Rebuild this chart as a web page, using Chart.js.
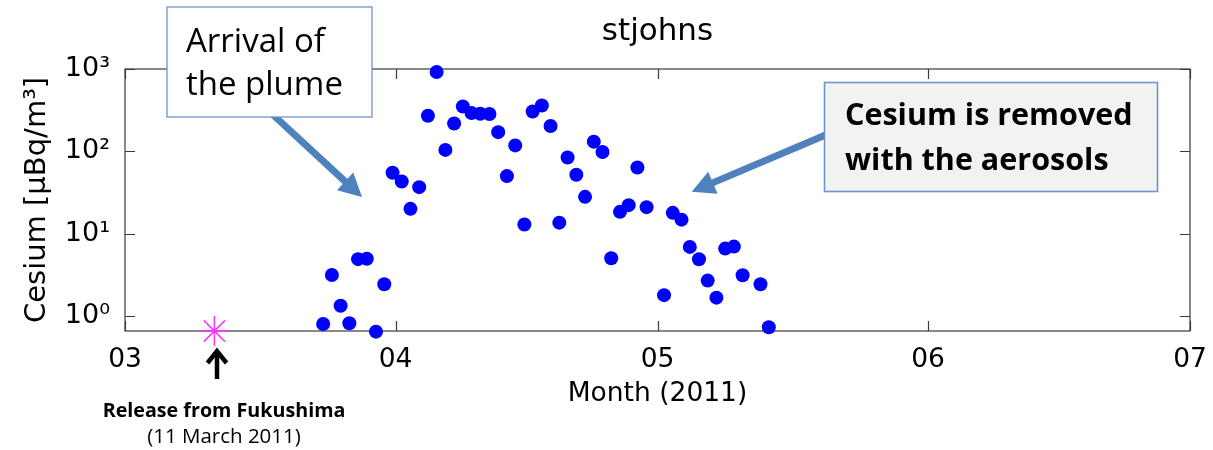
<!DOCTYPE html>
<html><head><meta charset="utf-8">
<script src="https://cdn.jsdelivr.net/npm/chart.js@4.4.1/dist/chart.umd.min.js"></script>
<style>html,body{margin:0;padding:0;background:#fff}#wrap{width:1213px;height:450px;position:relative}</style>
</head><body><div id="wrap"><canvas id="c" width="1213" height="450"></canvas></div>
<script>
// x values are days since 1 March 2011
const monthTicks = [0, 31, 61, 92, 122];
const monthLabels = ['03', '04', '05', '06', '07'];
const decadeTicks = [1, 10, 100, 1000];
const decadeLabels = ['10⁰', '10¹', '10²', '10³'];

const sampleDays = [22.7, 23.7, 24.7, 25.7, 26.7, 27.7, 28.75, 29.7, 30.65, 31.7,
  32.7, 33.7, 34.7, 35.7, 36.7, 37.7, 38.7, 39.7, 40.7, 41.75,
  42.75, 43.75, 44.7, 45.75, 46.7, 47.75, 48.75, 49.75, 50.7, 51.7,
  52.7, 53.7, 54.7, 55.7, 56.7, 57.7, 58.7, 59.75, 61.75, 62.75,
  63.75, 64.7, 65.75, 66.75, 67.75, 68.75, 69.75, 70.75, 72.8, 73.75];
const cesium = [0.80, 3.15, 1.33, 0.815, 4.9, 4.95, 0.645, 2.43, 55, 43,
  20, 36.7, 270, 920, 104, 218, 350, 292, 286, 284,
  171, 50, 118, 12.9, 305, 361, 203, 13.6, 84, 52,
  28, 131, 98, 5.03, 18.4, 22.2, 63.6, 21, 1.79, 17.9,
  14.8, 6.9, 4.89, 2.69, 1.67, 6.58, 6.96, 3.13, 2.43, 0.73];
const releaseDay = [10.24];
const releaseValue = [0.657];

const axisFont = {family: 'DejaVu Sans', size: 26.5, weight: 'normal'};

function arrow(ctx, x0, y0, x1, y1, shaftW, headLen, headW, color) {
  const a = Math.atan2(y1 - y0, x1 - x0);
  const bx = x1 - headLen * Math.cos(a), by = y1 - headLen * Math.sin(a);
  ctx.save();
  ctx.strokeStyle = color; ctx.fillStyle = color; ctx.lineWidth = shaftW; ctx.lineCap = 'butt';
  ctx.beginPath(); ctx.moveTo(x0, y0); ctx.lineTo(bx + Math.cos(a), by + Math.sin(a)); ctx.stroke();
  const nx = -Math.sin(a), ny = Math.cos(a);
  ctx.beginPath(); ctx.moveTo(x1, y1);
  ctx.lineTo(bx + nx * headW / 2, by + ny * headW / 2);
  ctx.lineTo(bx - nx * headW / 2, by - ny * headW / 2);
  ctx.closePath(); ctx.fill();
  ctx.restore();
}

const framePlugin = {
  id: 'frame',
  beforeDatasetsDraw(chart) {
    const {ctx, chartArea: {left, right, top, bottom}, scales: {x, y}} = chart;
    ctx.save();
    ctx.strokeStyle = '#3a3a3a'; ctx.lineWidth = 1.2;
    ctx.strokeRect(left, top, right - left, bottom - top);
    ctx.beginPath();
    monthTicks.forEach(v => {
      const px = Math.round(x.getPixelForValue(v)) + 0.5;
      ctx.moveTo(px, bottom); ctx.lineTo(px, bottom - 10);
      ctx.moveTo(px, top); ctx.lineTo(px, top + 10);
    });
    decadeTicks.forEach(v => {
      const py = Math.round(y.getPixelForValue(v)) + 0.5;
      ctx.moveTo(left, py); ctx.lineTo(left + 10, py);
      ctx.moveTo(right, py); ctx.lineTo(right - 10, py);
    });
    ctx.stroke();
    ctx.restore();
  }
};

const notesPlugin = {
  id: 'notes',
  afterDraw(chart) {
    const ctx = chart.ctx;
    const blue = '#4f81bd';
    ctx.save();
    // Box 1
    arrow(ctx, 270, 112, 362, 197, 7, 23, 24, blue);
    ctx.fillStyle = '#ffffff'; ctx.fillRect(167, 7, 205, 110);
    ctx.strokeStyle = '#6d94cc'; ctx.lineWidth = 1.3; ctx.strokeRect(167, 7, 205, 110);
    ctx.fillStyle = '#000'; ctx.font = '33px "Open Sans"'; ctx.textAlign = 'left'; ctx.textBaseline = 'alphabetic';
    ctx.fillText('Arrival of', 186, 52);
    ctx.fillText('the plume', 186, 95);
    // Box 2
    arrow(ctx, 835, 131, 691.7, 191.7, 7, 23, 24, blue);
    ctx.fillStyle = '#f2f2f2'; ctx.fillRect(824.5, 82.5, 333, 109);
    ctx.strokeStyle = '#6d94cc'; ctx.lineWidth = 1.6; ctx.strokeRect(824.5, 82.5, 333, 109);
    ctx.fillStyle = '#000'; ctx.font = 'bold 30.5px "Open Sans"';
    ctx.fillText('Cesium is removed', 845, 125);
    ctx.fillText('with the aerosols', 845, 170);
    // Release annotation
    ctx.strokeStyle = '#000'; ctx.lineWidth = 4.5; ctx.lineCap = 'butt'; ctx.lineJoin = 'miter';
    ctx.beginPath(); ctx.moveTo(217, 352); ctx.lineTo(217, 379); ctx.stroke();
    ctx.beginPath(); ctx.moveTo(207.5, 363); ctx.lineTo(217, 351); ctx.lineTo(226.5, 363); ctx.stroke();
    ctx.textAlign = 'center';
    ctx.font = 'bold 19.7px "Open Sans"';
    ctx.fillText('Release from Fukushima', 224, 417);
    ctx.font = '20.5px "Open Sans"';
    ctx.fillText('(11 March 2011)', 224, 443);
    ctx.restore();
  }
};

new Chart(document.getElementById('c'), {
  type: 'scatter',
  data: {
    datasets: [
      {
        data: sampleDays.map((d, i) => ({x: d, y: cesium[i]})),
        pointRadius: 7, pointHoverRadius: 7, pointBackgroundColor: '#0000ff',
        pointBorderWidth: 0, borderColor: '#0000ff', clip: false
      },
      {
        data: releaseDay.map((d, i) => ({x: d, y: releaseValue[i]})),
        pointStyle: 'star', pointRadius: 15, pointHoverRadius: 15,
        borderColor: '#ff33ff', pointBorderColor: '#ff33ff', pointBorderWidth: 1.5,
        backgroundColor: 'rgba(0,0,0,0)', clip: false
      }
    ]
  },
  options: {
    responsive: false, animation: false, devicePixelRatio: 1,
    layout: {padding: {left: 0, right: 23, top: 0, bottom: 0}},
    plugins: {
      legend: {display: false}, tooltip: {enabled: false},
      title: {display: true, fullSize: false, text: 'stjohns', color: '#000',
        font: {family: 'DejaVu Sans', size: 31, weight: 'normal'},
        padding: {top: 13, bottom: 18.8}}
    },
    scales: {
      x: {
        type: 'linear', min: monthTicks[0], max: monthTicks[monthTicks.length - 1],
        afterBuildTicks: s => { s.ticks = monthTicks.map(v => ({value: v})); },
        ticks: {callback: v => monthLabels[monthTicks.indexOf(v)], font: axisFont, color: '#000',
          padding: 13, maxRotation: 0, autoSkip: false},
        grid: {display: false, drawTicks: false}, border: {display: false},
        title: {display: true, text: 'Month (2011)', font: axisFont, color: '#000', padding: {top: 0, bottom: 40}},
        afterFit: s => { s.height = 119; s.paddingLeft = 0; s.paddingRight = 0; }
      },
      y: {
        type: 'logarithmic', min: 0.657, max: 1000,
        afterBuildTicks: s => { s.ticks = decadeTicks.map(v => ({value: v})); },
        ticks: {callback: v => decadeLabels[decadeTicks.indexOf(v)],
          font: {family: 'DejaVu Sans', size: 27}, color: '#000', padding: 15, autoSkip: false},
        grid: {display: false, drawTicks: false}, border: {display: false},
        title: {display: true, text: 'Cesium [μBq/m³]', font: {family: 'DejaVu Sans', size: 29}, color: '#000',
          padding: {top: 19.6, bottom: 0}},
        afterFit: s => { s.width = 125; s.paddingTop = 0; s.paddingBottom = 0; }
      }
    }
  },
  plugins: [framePlugin, notesPlugin]
});
</script></body></html>
